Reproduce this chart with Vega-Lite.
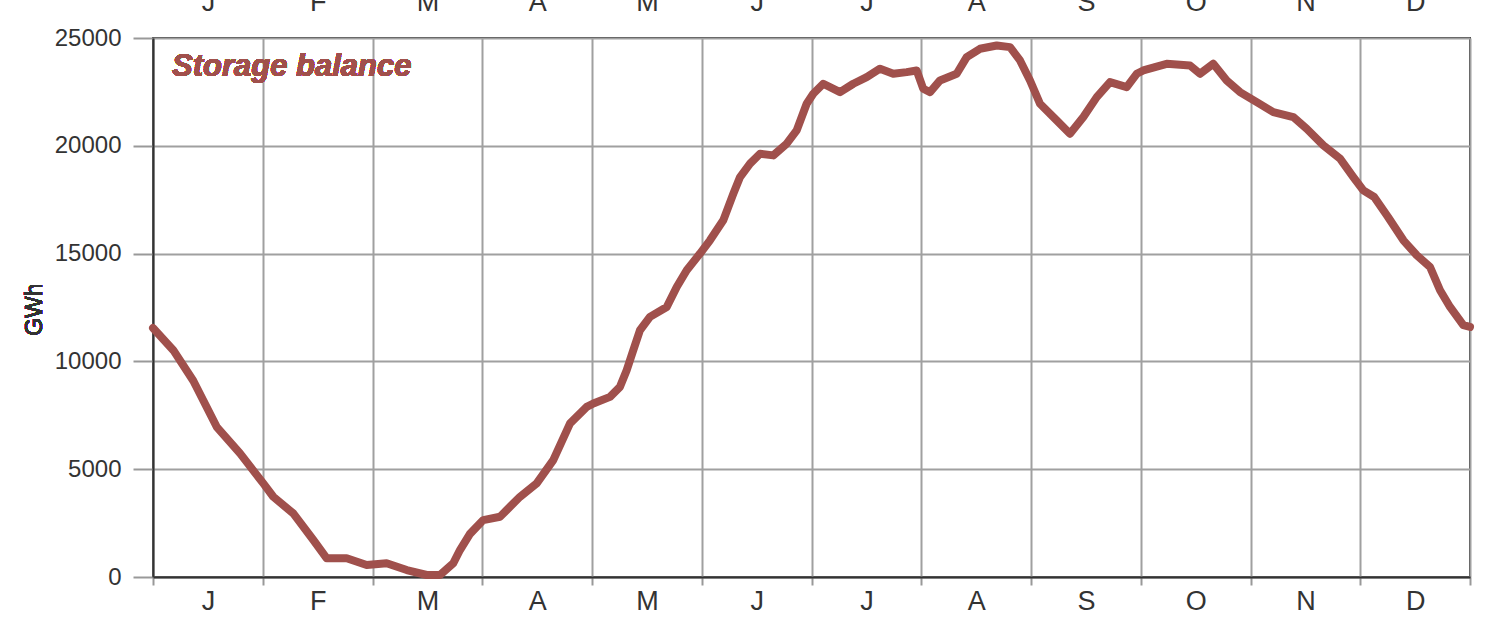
{
  "$schema": "https://vega.github.io/schema/vega-lite/v6.json",
  "width": 1317,
  "height": 539,
  "autosize": {"type": "none"},
  "padding": {"left": 153, "top": 38, "right": 30, "bottom": 51},
  "background": "white",
  "config": {
    "font": "Liberation Sans",
    "view": {"stroke": "#333333", "strokeWidth": 2}
  },
  "data": {
    "values": [
      {"month": 0.0, "gwh": 11550},
      {"month": 0.185, "gwh": 10520},
      {"month": 0.367, "gwh": 9100},
      {"month": 0.58, "gwh": 6966},
      {"month": 0.793, "gwh": 5732},
      {"month": 1.005, "gwh": 4342},
      {"month": 1.096, "gwh": 3722},
      {"month": 1.278, "gwh": 2950},
      {"month": 1.461, "gwh": 1715},
      {"month": 1.583, "gwh": 866},
      {"month": 1.765, "gwh": 866},
      {"month": 1.947, "gwh": 556},
      {"month": 2.129, "gwh": 635},
      {"month": 2.312, "gwh": 324},
      {"month": 2.494, "gwh": 93},
      {"month": 2.615, "gwh": 93},
      {"month": 2.736, "gwh": 635},
      {"month": 2.797, "gwh": 1251},
      {"month": 2.888, "gwh": 2000},
      {"month": 3.009, "gwh": 2641},
      {"month": 3.162, "gwh": 2796},
      {"month": 3.344, "gwh": 3722},
      {"month": 3.496, "gwh": 4342},
      {"month": 3.647, "gwh": 5422},
      {"month": 3.8, "gwh": 7122},
      {"month": 3.952, "gwh": 7892},
      {"month": 4.012, "gwh": 8049},
      {"month": 4.164, "gwh": 8355},
      {"month": 4.255, "gwh": 8819},
      {"month": 4.316, "gwh": 9592},
      {"month": 4.376, "gwh": 10519},
      {"month": 4.437, "gwh": 11446},
      {"month": 4.528, "gwh": 12063},
      {"month": 4.681, "gwh": 12526},
      {"month": 4.772, "gwh": 13453},
      {"month": 4.863, "gwh": 14226},
      {"month": 4.984, "gwh": 15000},
      {"month": 5.075, "gwh": 15617},
      {"month": 5.196, "gwh": 16544},
      {"month": 5.288, "gwh": 17780},
      {"month": 5.349, "gwh": 18550},
      {"month": 5.44, "gwh": 19170},
      {"month": 5.531, "gwh": 19633},
      {"month": 5.652, "gwh": 19556},
      {"month": 5.774, "gwh": 20097},
      {"month": 5.865, "gwh": 20713},
      {"month": 5.956, "gwh": 21950},
      {"month": 6.016, "gwh": 22414},
      {"month": 6.107, "gwh": 22878},
      {"month": 6.26, "gwh": 22490},
      {"month": 6.381, "gwh": 22878},
      {"month": 6.503, "gwh": 23183},
      {"month": 6.624, "gwh": 23574},
      {"month": 6.745, "gwh": 23340},
      {"month": 6.867, "gwh": 23417},
      {"month": 6.958, "gwh": 23494},
      {"month": 7.018, "gwh": 22646},
      {"month": 7.08, "gwh": 22490},
      {"month": 7.171, "gwh": 23031},
      {"month": 7.323, "gwh": 23340},
      {"month": 7.414, "gwh": 24111},
      {"month": 7.535, "gwh": 24500},
      {"month": 7.688, "gwh": 24653},
      {"month": 7.809, "gwh": 24576},
      {"month": 7.9, "gwh": 23958},
      {"month": 7.991, "gwh": 23031},
      {"month": 8.082, "gwh": 21950},
      {"month": 8.234, "gwh": 21177},
      {"month": 8.355, "gwh": 20560},
      {"month": 8.477, "gwh": 21332},
      {"month": 8.599, "gwh": 22258},
      {"month": 8.72, "gwh": 22954},
      {"month": 8.872, "gwh": 22720},
      {"month": 8.963, "gwh": 23340},
      {"month": 9.023, "gwh": 23494},
      {"month": 9.236, "gwh": 23803},
      {"month": 9.449, "gwh": 23726},
      {"month": 9.54, "gwh": 23340},
      {"month": 9.661, "gwh": 23803},
      {"month": 9.783, "gwh": 23031},
      {"month": 9.904, "gwh": 22490},
      {"month": 10.057, "gwh": 22027},
      {"month": 10.208, "gwh": 21563},
      {"month": 10.39, "gwh": 21332},
      {"month": 10.512, "gwh": 20792},
      {"month": 10.664, "gwh": 20019},
      {"month": 10.816, "gwh": 19402},
      {"month": 10.937, "gwh": 18550},
      {"month": 11.028, "gwh": 17934},
      {"month": 11.127, "gwh": 17625},
      {"month": 11.253, "gwh": 16698},
      {"month": 11.393, "gwh": 15617},
      {"month": 11.515, "gwh": 14922},
      {"month": 11.636, "gwh": 14380},
      {"month": 11.727, "gwh": 13300},
      {"month": 11.818, "gwh": 12526},
      {"month": 11.939, "gwh": 11678},
      {"month": 12.0, "gwh": 11600}
    ]
  },
  "layer": [
    {
      "mark": {"type": "line", "color": "#a0504c", "strokeWidth": 8, "strokeCap": "round", "strokeJoin": "round"},
      "encoding": {
        "x": {
          "field": "month",
          "type": "quantitative",
          "scale": {"domain": [0, 12], "nice": false, "zero": false},
          "axis": {
            "orient": "bottom",
            "title": null,
            "values": [0, 1, 2, 3, 4, 5, 6, 7, 8, 9, 10, 11, 12],
            "labelExpr": "datum.value < 12 ? ['J','F','M','A','M','J','J','A','S','O','N','D'][datum.value] : ''",
            "labelOffset": 54.9,
            "labelOverlap": false,
            "labelBound": false,
            "labelFlush": false,
            "labelFontSize": 27,
            "labelColor": "#333333",
            "labelPadding": 3,
            "tickSize": 8,
            "tickColor": "#999999",
            "tickWidth": 2,
            "grid": true,
            "gridColor": "#a0a0a0",
            "gridWidth": 2,
            "gridOpacity": 1,
            "domainColor": "#333333",
            "domainWidth": 2
          }
        },
        "y": {
          "field": "gwh",
          "type": "quantitative",
          "title": null,
          "scale": {"domain": [0, 25000], "nice": false},
          "axis": {
            "orient": "left",
            "title": null,
            "values": [0, 5000, 10000, 15000, 20000, 25000],
            "format": "d",
            "labelFontSize": 24,
            "labelColor": "#333333",
            "labelPadding": 12,
            "tickSize": 20,
            "tickColor": "#999999",
            "tickWidth": 2,
            "grid": true,
            "gridColor": "#a0a0a0",
            "gridWidth": 2,
            "gridOpacity": 1,
            "domainColor": "#333333",
            "domainWidth": 2
          }
        }
      }
    },
    {
      "mark": {"type": "text", "text": "Storage balance", "align": "left", "baseline": "alphabetic", "fontSize": 31, "fontStyle": "italic", "fontWeight": "bold", "fill": "#a0504c", "stroke": null},
      "encoding": {
        "x": {
          "datum": 0.173,
          "type": "quantitative",
          "axis": {
            "orient": "top",
            "title": null,
            "values": [0, 1, 2, 3, 4, 5, 6, 7, 8, 9, 10, 11],
            "labelExpr": "['J','F','M','A','M','J','J','A','S','O','N','D'][datum.value]",
            "labelOffset": 54.9,
            "labelOverlap": false,
            "labelBound": false,
            "labelFlush": false,
            "labelFontSize": 27,
            "labelColor": "#333333",
            "labelBaseline": "alphabetic",
            "labelPadding": 28,
            "ticks": false,
            "grid": false,
            "domain": false
          }
        },
        "y": {"datum": 23250, "type": "quantitative", "title": null}
      }
    },
    {
      "mark": {"type": "text", "text": "GWh", "align": "center", "baseline": "middle", "angle": 270, "fontSize": 23, "fill": "#333333", "stroke": null},
      "encoding": {
        "x": {"datum": -1.075, "type": "quantitative", "axis": null},
        "y": {"datum": 12400, "type": "quantitative", "title": null}
      }
    }
  ],
  "resolve": {"axis": {"x": "independent"}}
}
